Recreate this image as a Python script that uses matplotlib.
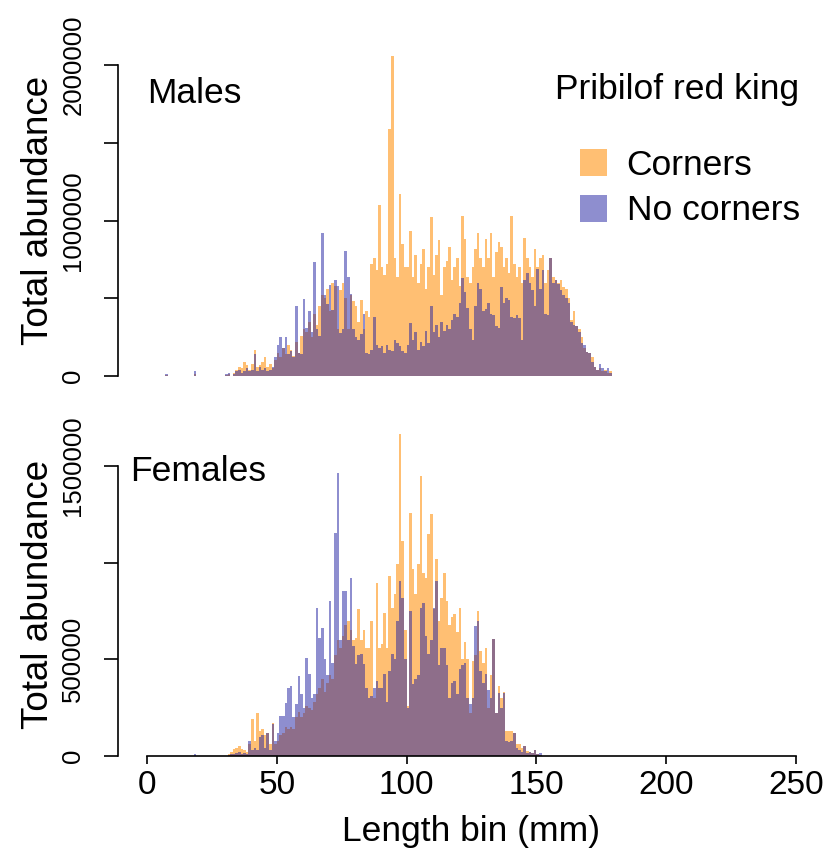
import numpy as np
import matplotlib.pyplot as plt
from matplotlib.patches import Patch

plt.rcParams['font.family'] = ['Liberation Sans', 'DejaVu Sans']

# 1 mm length bins, lower edges 0..179
bin_edges = np.arange(0, 181)

# total abundance per length bin (thousands of crabs)
males_corners = [
    0, 0, 0, 0, 0, 0, 0, 5, 0, 0,
    0, 0, 0, 0, 0, 0, 0, 0, 10, 0,
    0, 0, 0, 0, 0, 0, 0, 0, 0, 0,
    5, 10, 0, 20, 40, 60, 50, 90, 70, 40,
    80, 167, 60, 70, 90, 120, 60, 80, 50, 100,
    150, 120, 180, 140, 200, 170, 130, 220, 150, 260,
    300, 280, 350, 250, 400, 330, 450, 520, 500, 560,
    420, 600, 580, 300, 550, 600, 500, 300, 520, 480,
    450, 350, 490, 300, 420, 380, 720, 760, 680, 1100,
    700, 650, 720, 1590, 2060, 760, 640, 1170, 850, 700,
    700, 930, 640, 780, 600, 720, 820, 560, 700, 1020,
    650, 780, 875, 520, 700, 740, 830, 620, 700, 760,
    580, 1030, 880, 640, 600, 700, 820, 917, 760, 700,
    880, 760, 920, 640, 800, 860, 830, 700, 760, 660,
    1030, 720, 640, 700, 600, 885, 760, 700, 640, 820,
    700, 760, 780, 600, 680, 760, 640, 620, 600, 620,
    575, 560, 500, 360, 420, 320, 300, 250, 180, 155,
    150, 120, 60, 40, 50, 30, 40, 20, 30, 0,
]
males_no_corners = [
    0, 0, 0, 0, 0, 0, 0, 15, 0, 0,
    0, 0, 0, 0, 0, 0, 0, 0, 35, 0,
    0, 0, 0, 0, 0, 0, 0, 0, 0, 0,
    10, 20, 0, 15, 30, 40, 20, 30, 50, 30,
    40, 140, 30, 60, 40, 50, 30, 40, 60, 124,
    200, 250, 180, 253, 140, 160, 120, 450, 150, 140,
    493, 310, 420, 280, 735, 300, 260, 918, 520, 460,
    585, 425, 617, 580, 275, 300, 806, 640, 530, 300,
    250, 230, 270, 400, 150, 140, 170, 380, 200, 180,
    190, 150, 200, 170, 160, 230, 210, 190, 160, 150,
    200, 340, 230, 280, 170, 220, 190, 290, 210, 450,
    280, 330, 250, 350, 290, 330, 300, 360, 400, 380,
    470, 630, 540, 440, 300, 230, 450, 600, 560, 420,
    430, 470, 400, 390, 320, 310, 575, 470, 500, 490,
    380, 370, 390, 370, 230, 620, 660, 600, 550, 450,
    690, 560, 680, 400, 390, 760, 600, 620, 590, 550,
    520, 500, 470, 350, 330, 320, 285, 210, 200, 155,
    150, 90, 60, 40, 80, 50, 30, 50, 20, 0,
]
females_corners = [
    0, 0, 0, 0, 0, 0, 0, 0, 0, 0,
    0, 0, 0, 0, 0, 0, 0, 0, 0, 0,
    0, 0, 0, 0, 0, 0, 0, 0, 0, 0,
    0, 10, 20, 35, 40, 50, 35, 30, 20, 60,
    190, 80, 224, 130, 140, 110, 120, 60, 170, 60,
    80, 110, 120, 150, 140, 150, 140, 200, 230, 200,
    220, 260, 250, 240, 280, 320, 350, 400, 330, 380,
    420, 400, 520, 600, 560, 620, 680, 700, 650, 600,
    612, 758, 600, 650, 560, 560, 698, 300, 897, 560,
    580, 741, 560, 931, 767, 836, 991, 1664, 1112, 650,
    260, 1258, 965, 836, 991, 1448, 948, 920, 1146, 1250,
    760, 1017, 700, 820, 948, 800, 680, 720, 733, 640,
    767, 500, 590, 500, 220, 491, 520, 750, 543, 480,
    560, 250, 420, 603, 220, 362, 300, 330, 130, 130,
    130, 120, 60, 60, 40, 52, 25, 20, 15, 30,
    10, 5, 0, 0, 0, 0, 0, 0, 0, 0,
    0, 0, 0, 0, 0, 0, 0, 0, 0, 0,
    0, 0, 0, 0, 0, 0, 0, 0, 0, 0,
]
females_no_corners = [
    0, 0, 0, 0, 0, 0, 0, 0, 0, 0,
    0, 0, 0, 0, 0, 0, 0, 0, 12, 0,
    0, 0, 0, 0, 0, 0, 0, 0, 0, 0,
    0, 5, 10, 10, 15, 20, 10, 15, 10, 78,
    30, 40, 30, 100, 110, 40, 120, 30, 164, 78,
    120, 207, 207, 276, 353, 362, 200, 270, 414, 319,
    250, 508, 422, 300, 320, 767, 612, 664, 500, 420,
    802, 480, 1155, 1465, 600, 853, 853, 600, 922, 569,
    474, 520, 526, 474, 353, 300, 310, 353, 388, 350,
    353, 422, 280, 440, 526, 500, 700, 905, 819, 500,
    250, 750, 370, 400, 420, 767, 793, 620, 526, 600,
    767, 905, 470, 560, 560, 470, 300, 380, 390, 320,
    450, 470, 480, 300, 270, 302, 672, 700, 440, 380,
    422, 340, 300, 603, 220, 327, 250, 328, 80, 70,
    80, 120, 40, 30, 20, 52, 15, 20, 15, 30,
    10, 15, 0, 0, 0, 0, 0, 0, 0, 0,
    0, 0, 0, 0, 0, 0, 0, 0, 0, 0,
    0, 0, 0, 0, 0, 0, 0, 0, 0, 0,
]

x_ticks = [0, 50, 100, 150, 200, 250]
male_ticks = [0, 500000, 1000000, 1500000, 2000000]
male_tick_labels = ['0', '', '1000000', '', '2000000']
female_ticks = [0, 500000, 1000000, 1500000]
female_tick_labels = ['0', '500000', '', '1500000']

col_corners = (1.0, 0.55, 0.0, 0.55)
col_no_corners = (0.12, 0.12, 0.63, 0.5)

W, H = 823, 861


def px_box(left, top, right, bottom):
    return [left / W, 1 - bottom / H, (right - left) / W, (bottom - top) / H]


fig = plt.figure(figsize=(W / 100, H / 100), dpi=100)
ax1 = fig.add_axes(px_box(118, 20, 822, 376))
ax2 = fig.add_axes(px_box(118, 405, 822, 756))

panels = [
    (ax1, males_corners, males_no_corners, 2.29e6, male_ticks, male_tick_labels),
    (ax2, females_corners, females_no_corners, 1.816e6, female_ticks, female_tick_labels),
]
for ax, corners, no_corners, ymax, yt, ytl in panels:
    ax.stairs(np.array(corners) * 1000, bin_edges, fill=True, color=col_corners, lw=0)
    ax.stairs(np.array(no_corners) * 1000, bin_edges, fill=True, color=col_no_corners, lw=0)
    ax.set_xlim(-11.2, 260)
    ax.set_ylim(0, ymax)
    for s in ['top', 'right']:
        ax.spines[s].set_visible(False)
    ax.spines['left'].set_bounds(0, yt[-1])
    ax.spines['left'].set_linewidth(1.2)
    ax.set_yticks(yt)
    ax.set_yticklabels(ytl)
    ax.tick_params(axis='y', labelrotation=90, length=10, width=1.2, pad=13.5, labelsize=18.5)
    for lab in ax.get_yticklabels():
        lab.set_va('center')
    ax.set_ylabel('Total abundance', fontsize=26.5)

ax1.yaxis.set_label_coords(-0.088, 0.466)
ax2.yaxis.set_label_coords(-0.088, 0.459)

# upper panel has no x axis
ax1.spines['bottom'].set_visible(False)
ax1.set_xticks([])

ax2.spines['bottom'].set_bounds(0, 250)
ax2.spines['bottom'].set_linewidth(1.2)
ax2.set_xticks(x_ticks)
ax2.tick_params(axis='x', length=6, width=1.2, pad=4, labelsize=24)
ax2.set_xlabel('Length bin (mm)', fontsize=25.5)
ax2.xaxis.set_label_coords(0.502, -0.168)

ax1.text(0, 1.82e6, 'Males', ha='left', va='center', fontsize=25.5)
ax2.text(-6.5, 1.474e6, 'Females', ha='left', va='center', fontsize=25.5)

fig.text(555 / W, 1 - 90 / H, 'Pribilof red king', ha='left', va='center', fontsize=25.5)
handles = [Patch(color=col_corners, lw=0), Patch(color=col_no_corners, lw=0)]
fig.legend(handles, ['Corners', 'No corners'], loc='upper left',
           bbox_to_anchor=(580 / W, 1 - 149 / H), frameon=False, fontsize=25.5,
           handlelength=0.76, handleheight=0.8, handletextpad=0.56,
           labelspacing=0.35, borderpad=0, borderaxespad=0)

fig.savefig('out.png', dpi=100)
